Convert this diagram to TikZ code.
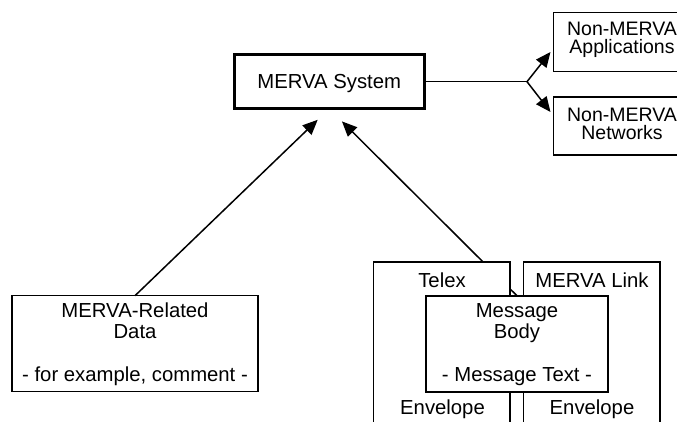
\documentclass[tikz,border=0pt]{standalone}
\usepackage{fontspec}
\setmainfont{Liberation Sans}
\usetikzlibrary{arrows.meta,calc,backgrounds}
\begin{document}
\begin{tikzpicture}[x=1pt,y=-1pt,
  box/.style={draw, line width=1.4pt, fill=white, inner sep=0pt, outer sep=0pt},
  txt/.style={anchor=base, inner sep=0pt, font=\fontsize{20.3}{21}\selectfont},
  stxt/.style={inner sep=0pt, align=center, font=\fontsize{19.5}{18.5}\selectfont},
  conn/.style={line width=1.5pt},
  arr/.style={conn, -{Triangle[length=15pt,width=13pt]}}]
\useasboundingbox (0,0) rectangle (677,422);
\clip (0,0) rectangle (677,422);
% MERVA System
\node[box, line width=3pt, minimum width=190pt, minimum height=54pt,
      text height=14.6pt, text depth=0pt, font=\fontsize{20.3}{21}\selectfont]
      (merva) at (329.2,81.7) {MERVA System};
% Non-MERVA boxes
\node[box, minimum width=137pt, minimum height=59pt] (app) at (622,42) {};
\node[stxt] (appT) at (622,40) {Non-MERVA\\Applications};
\node[box, minimum width=137pt, minimum height=58pt] (net) at (622,126) {};
\node[stxt] (netT) at (622,124) {Non-MERVA\\Networks};
% MERVA-Related Data
\node[box, minimum width=246pt, minimum height=96pt] (data) at (135,343.7) {};
\node[txt] (dataA) at (135,317.3) {MERVA-Related};
\node[txt] (dataB) at (135,338.3) {Data};
\node[txt] (dataC) at (135,381.7) {- for example, comment -};
% Telex and MERVA Link
\node[box, minimum width=136.5pt, minimum height=178pt] (telex) at (441.75,351) {};
\node[txt] (telexL) at (442,287.3) {Telex};
\node[txt] (telexE) at (442.5,414) {Envelope};
\node[box, minimum width=136.5pt, minimum height=178pt] (link) at (591.75,351) {};
\node[txt] (linkL) at (592,287.3) {MERVA Link};
\node[txt] (linkE) at (592,414) {Envelope};
% Message Body
\node[box, minimum width=182pt, minimum height=96pt] (mb) at (517,343.8) {};
\node[txt] (mbA) at (517,317) {Message};
\node[txt] (mbB) at (517,338.3) {Body};
\node[txt] (mbC) at (517,381.7) {- Message Text -};
% connectors
\coordinate (split) at ($(merva.east)+(102.8,0)$);
\draw[conn] (merva.east) -- (split);
\draw[arr] (split) -- ($(app.west)+(-3,10)$);
\draw[arr] (split) -- ($(net.west)+(-3,-14)$);
\draw[arr, shorten >=16pt] (data.north) -- (merva.south);
\begin{scope}[on background layer]
\draw[arr, shorten >=18pt] (mb.north) -- (merva.south);
\end{scope}
\end{tikzpicture}
\end{document}
